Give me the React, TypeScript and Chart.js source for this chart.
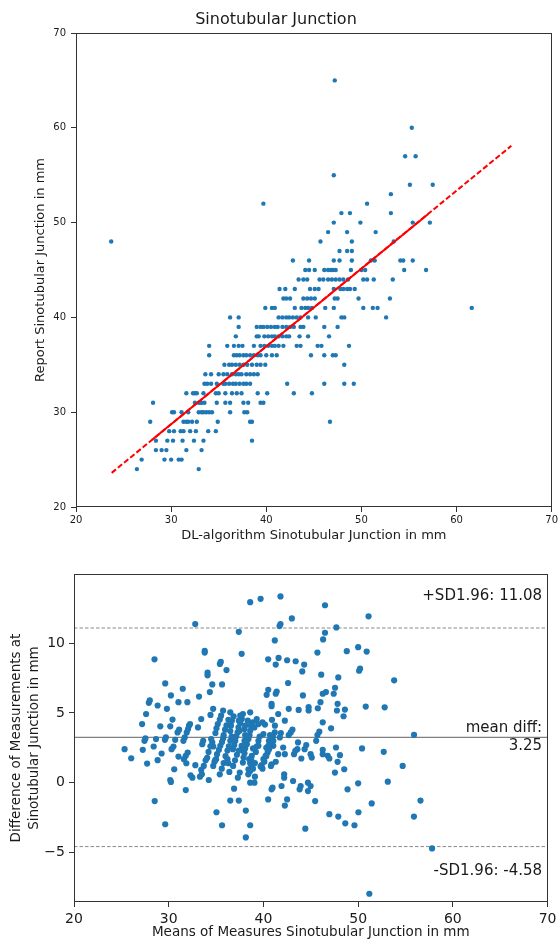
import React, { useEffect, useRef } from 'react';
import { Chart, registerables } from 'chart.js';

Chart.register(...registerables);

const FONT = '"DejaVu Sans", "Liberation Sans", sans-serif';
const TEXT = '#1a1a1a';
const DOT = '#1f77b4';

// ---------- top chart: report vs DL-algorithm ----------
const TOP_TITLE = 'Sinotubular Junction';
const TOP_X_LABEL = 'DL-algorithm Sinotubular Junction in mm';
const TOP_Y_LABEL = 'Report Sinotubular Junction in mm';
const TOP_TICKS = [20, 30, 40, 50, 60, 70];

// [report value, DL-algorithm values measured for that report value]
const topRows: [number, number[]][] = [
  [24, [26.4, 32.9]],
  [25, [26.9, 29.3, 30.0, 30.8, 31.1]],
  [26, [28.4, 29.0, 29.5, 31.6, 33.2]],
  [27, [28.4, 29.6, 30.2, 31.2, 32.4, 33.4, 38.5]],
  [28, [29.8, 30.3, 31.0, 31.3, 32.0, 32.6, 33.9, 34.7]],
  [29, [27.8, 31.3, 31.6, 31.8, 32.2, 32.7, 34.9, 38.3, 38.5, 46.7]],
  [30, [30.1, 30.3, 31.1, 31.8, 32.9, 33.2, 33.4, 33.7, 34.0, 34.3, 36.2, 37.7, 38.0]],
  [31, [28.1, 32.5, 32.9, 33.1, 33.2, 33.5, 34.8, 35.7, 36.2, 37.6, 38.1, 39.4, 39.7]],
  [32, [31.6, 32.3, 32.5, 32.7, 33.4, 34.7, 35.0, 35.7, 36.4, 36.9, 37.4, 39.1, 40.1, 42.9, 44.8]],
  [33, [33.5, 33.8, 34.2, 34.8, 35.5, 35.7, 36.1, 36.5, 36.8, 37.2, 37.6, 37.9, 38.3, 42.2, 46.1, 48.2, 49.2]],
  [34, [33.6, 34.2, 35.0, 35.5, 35.9, 36.4, 36.8, 37.1, 37.4, 37.9, 38.3, 38.7, 39.1]],
  [35, [35.6, 36.1, 36.4, 36.8, 37.2, 37.6, 38.0, 38.5, 39.0, 39.4, 39.9, 48.2]],
  [36, [34.0, 36.6, 36.9, 37.2, 37.6, 37.9, 38.3, 38.7, 39.1, 39.4, 40.0, 40.6, 41.1, 44.7, 46.1, 47.0, 47.3]],
  [37, [34.0, 35.9, 36.6, 37.1, 37.5, 38.7, 39.4, 39.8, 40.2, 40.6, 40.9, 41.3, 41.8, 43.2, 43.6, 45.4, 45.8, 48.7]],
  [38, [36.8, 39.0, 39.2, 39.8, 40.2, 40.6, 40.9, 41.3, 41.7, 42.1, 42.4, 43.5, 44.4, 46.6]],
  [39, [37.1, 39.0, 39.4, 39.7, 40.1, 40.5, 40.9, 41.2, 41.7, 42.1, 42.5, 42.9, 43.6, 43.9, 46.1, 47.5]],
  [40, [36.2, 37.1, 41.3, 41.7, 42.1, 42.4, 42.8, 43.2, 43.6, 44.4, 45.2, 47.9, 48.2, 52.6]],
  [41, [39.9, 40.6, 40.9, 43.0, 43.7, 44.1, 44.4, 44.8, 46.2, 47.1, 50.2, 51.2, 51.7, 61.6]],
  [42, [41.8, 42.1, 42.5, 43.9, 44.3, 44.7, 45.1, 47.2, 47.5, 49.7, 53.0]],
  [43, [41.4, 42.0, 43.0, 44.6, 45.1, 45.5, 47.1, 47.8, 48.1, 48.5, 48.8, 49.3]],
  [44, [43.4, 43.9, 44.3, 45.6, 46.0, 46.5, 46.9, 47.3, 47.7, 48.1, 48.6, 50.2, 50.6, 51.3, 53.3]],
  [45, [44.1, 44.5, 45.1, 46.1, 46.5, 46.8, 47.0, 47.3, 48.9, 50.0, 50.4, 54.5, 56.8]],
  [46, [42.8, 44.5, 47.1, 47.7, 49.0, 51.0, 51.4, 54.1, 54.4, 55.4]],
  [47, [47.7, 48.5, 49.0]],
  [48, [23.7, 45.7, 49.0, 53.4]],
  [49, [46.5, 48.5, 51.5]],
  [50, [47.1, 49.9, 55.4, 57.2]],
  [51, [47.9, 48.8, 53.1]],
  [52, [39.7, 50.6]],
  [53, [53.1]],
  [54, [55.1, 57.5]],
  [55, [47.1]],
  [57, [54.6, 55.7]],
  [60, [55.3]],
  [65, [47.2]],
];

// regression line: dashed over the whole range, dense (solid-looking) in the middle
const regDashedX = [23.75, 65.76];
const regDashedY = [23.6, 58.1];
const regSolidX = [28.0, 57.0];
const regSolidY = [27.09, 50.89];

// ---------- bottom chart: Bland-Altman ----------
const BA_X_LABEL = 'Means of Measures Sinotubular Junction in mm';
const BA_Y_LABEL = ['Difference of Measurements at', 'Sinotubular Junction in mm'];
const BA_X_TICKS = [20, 30, 40, 50, 60, 70];
const BA_Y_TICKS = [-5, 0, 5, 10];
const BA_Y_MIN = -8.55;
const BA_Y_MAX = 14.95;
const meanDiff = 3.25;
const upperLimit = 11.08;
const lowerLimit = -4.58;

// [mean of measures, difference]
const baPoints: [number, number][] = [
  [38.6, 12.93], [39.7, 13.17], [41.8, 13.34], [46.5, 12.71], [32.8, 11.36], [51.1, 11.92], [43.0, 11.77],
  [41.8, 11.36], [41.7, 11.22], [37.4, 10.81], [46.5, 10.74], [47.7, 11.12], [41.2, 10.19], [46.3, 10.26],
  [33.8, 9.44], [33.8, 9.32], [37.7, 9.23], [45.7, 9.32], [48.8, 9.42], [50.0, 9.71], [50.9, 9.39],
  [28.5, 8.84], [35.5, 8.65], [35.4, 8.51], [36.1, 8.07], [40.5, 8.84], [41.6, 8.94], [41.3, 8.46],
  [42.5, 8.77], [43.4, 8.7], [44.3, 8.46], [44.1, 7.97], [46.1, 7.74], [34.1, 7.88], [34.1, 7.69],
  [47.9, 7.54], [50.2, 8.17], [50.1, 8.02], [53.8, 7.33],
  [29.63, 7.11], [31.48, 6.73], [34.6, 7.04], [35.63, 7.04], [30.23, 6.25], [34.34, 6.49], [33.2, 6.17],
  [27.9, 5.72], [28.0, 5.89], [28.83, 5.53], [31.03, 5.77], [31.97, 5.77], [29.81, 5.29], [27.61, 4.92],
  [27.19, 4.2], [29.11, 4.04], [30.16, 4.04], [30.4, 4.52], [30.93, 3.6], [31.1, 3.8], [33.43, 4.56],
  [33.09, 3.96], [34.41, 4.85], [34.69, 5.29],
  [25.34, 2.4], [26.04, 1.75], [27.72, 1.37], [27.44, 3.0], [27.54, 3.17], [27.26, 2.35], [28.41, 2.59],
  [28.66, 3.12], [28.83, 1.61], [29.25, 2.09], [29.6, 3.07], [29.7, 3.24], [30.3, 2.4], [30.5, 2.59],
  [30.68, 3.07], [31.03, 1.87], [30.58, 0.96], [30.16, 0.19], [30.23, 0.05],
  [31.55, 3.0], [31.69, 3.24], [31.9, 3.6], [32.04, 3.84], [32.14, 4.08], [32.25, 4.2],
  [32.0, 2.16], [31.8, 1.92], [31.6, 1.68], [31.86, 1.39], [32.81, 1.25], [33.43, 0.91], [33.5, 0.6],
  [33.3, 0.43], [32.3, 0.53], [32.5, 0.36], [31.8, -0.53], [34.23, 0.19], [34.06, 1.78], [33.54, 2.76],
  [33.64, 3.0],
  [35.39, 0.6], [34.83, 1.49], [35.0, 1.68], [34.7, 2.59], [34.6, 2.88], [34.48, 3.12],
  [35.1, 2.04], [35.3, 2.35], [35.45, 2.64], [35.63, 2.92], [35.74, 3.17],
  [34.93, 3.56], [35.04, 3.89], [35.18, 4.2], [35.39, 4.52], [35.53, 4.8], [35.74, 5.17],
  [36.2, 1.68], [36.3, 1.39], [36.4, 0.77],
  [36.78, 2.4], [36.92, 2.69], [37.03, 3.0], [37.13, 3.32], [37.27, 3.6], [37.37, 3.96], [37.55, 4.28],
  [37.72, 4.56], [37.83, 4.92],
  [36.5, 3.7], [36.57, 4.08], [36.67, 4.44], [36.85, 4.76], [36.5, 5.04],
  [37.3, 0.36], [37.5, 0.72], [36.9, -0.43],
  [38.07, 2.45], [38.25, 2.76], [38.42, 3.12], [38.53, 3.41], [38.6, 3.72], [38.67, 4.08], [38.88, 4.32],
  [38.6, 5.04], [38.5, 1.68], [38.6, 1.39], [38.42, 0.96], [38.6, 0.0], [37.83, 1.44],
  [42.6, 7.14], [47.56, 6.8], [47.42, 6.37], [46.26, 6.37], [44.17, 6.25], [40.51, 6.65], [40.34, 6.29],
  [41.4, 6.53], [41.3, 6.37], [40.86, 5.65], [40.86, 5.48], [42.67, 5.29], [43.72, 5.21], [44.77, 5.41],
  [44.77, 5.17], [45.74, 5.33], [46.02, 5.77], [46.6, 6.49], [47.83, 5.65], [47.76, 5.17], [48.6, 5.24],
  [48.46, 4.76], [50.8, 5.45], [52.8, 5.4], [47.14, 3.89], [46.26, 4.32], [45.9, 3.65], [45.7, 3.41],
  [43.06, 3.8], [42.88, 3.6], [42.26, 4.44], [41.56, 4.92], [41.21, 4.08], [40.16, 4.16], [39.29, 4.56],
  [39.47, 4.2], [37.55, 4.8], [38.35, 4.44], [38.07, 4.08], [38.0, 3.84], [39.05, 3.96], [39.9, 4.32],
  [40.0, 3.48], [41.04, 3.0], [41.04, 2.64], [41.84, 3.55], [41.73, 3.24], [42.67, 3.41], [43.65, 2.88],
  [43.58, 2.4], [44.52, 2.69], [44.35, 2.4], [45.57, 3.0], [46.26, 2.35], [46.26, 2.04], [44.98, 2.04],
  [45.1, 1.8], [44.0, 1.73], [43.23, 2.04], [43.37, 2.28], [42.26, 2.04], [42.08, 2.52], [41.56, 2.04],
  [40.51, 2.64], [40.58, 3.0], [40.44, 2.16], [40.23, 1.92], [40.0, 1.68], [39.8, 1.25], [39.7, 1.15],
  [39.47, 2.64], [39.47, 3.0], [38.9, 2.45], [38.77, 1.92], [38.7, 1.68], [38.07, 3.41], [38.0, 3.0],
  [37.7, 2.64], [37.7, 2.35], [38.77, 1.2], [38.6, 0.84], [38.4, 0.6], [39.1, 0.43], [39.05, 0.0],
  [40.86, 1.32], [40.79, 1.2], [42.19, 0.6], [42.19, 0.36], [41.91, -0.24], [43.13, 0.12], [43.93, -0.24],
  [43.82, -0.48], [44.7, 0.0], [44.7, -0.6], [44.98, -0.24], [46.79, 1.92], [46.96, 1.73], [47.55, 0.72],
  [48.08, 1.97], [47.83, 1.49], [48.53, 0.96], [47.66, 2.52], [50.41, 2.45], [52.7, 2.21], [48.88, -0.48],
  [50.0, -0.05], [53.13, 0.07], [40.96, -0.36], [40.86, -0.48], [55.9, 3.43], [54.7, 1.2],
  [39.6, 3.3], [40.3, 2.5], [40.7, 3.4], [39.2, 2.2], [40.9, 4.5], [41.3, 1.5], [37.4, 4.44], [37.48, 3.72],
  [33.7, 1.2], [33.9, 1.6], [34.2, 2.2], [34.4, 2.6], [34.7, 1.2], [34.9, 1.6], [35.8, 3.4], [35.95, 3.8],
  [36.1, 4.1], [36.3, 4.5], [35.6, 1.0], [35.8, 1.4], [36.0, 1.9], [36.2, 2.3], [36.35, 2.6], [36.5, 3.0],
  [36.65, 3.3], [36.8, 1.2], [37.0, 1.6], [37.2, 2.0], [37.4, 2.3], [37.9, 1.8], [38.0, 2.1], [38.9, 1.0],
  [39.1, 1.4], [39.3, 2.6], [39.9, 1.0], [40.1, 1.5], [40.3, 1.9], [40.6, 2.4], [40.8, 2.9], [41.0, 3.3],
  [41.2, 3.6],
  [29.63, -2.98], [35.04, -2.12], [35.63, -3.05], [36.5, -1.28], [37.4, -1.28], [38.14, -2.0], [38.6, -3.05],
  [38.14, -3.92], [40.5, -1.2], [42.26, -1.64], [42.5, -1.2], [44.42, -3.3], [45.46, -1.32], [46.96, -2.26],
  [47.9, -2.43], [48.64, -2.91], [49.61, -3.05], [50.03, -2.12], [51.43, -1.49], [55.89, -2.43],
  [56.58, -1.28], [57.8, -4.71], [51.18, -7.96], [28.52, -1.32],
];

const fixedTicks = (values: number[]) => (scale: any) => {
  scale.ticks = values.map((v) => ({ value: v }));
};

const minusLabel = (v: any) => {
  const n = Number(v);
  return n < 0 ? '\u2212' + Math.abs(n) : String(n);
};

const framePlugin = {
  id: 'frame',
  afterDraw(chart: any) {
    const { ctx, chartArea: a } = chart;
    ctx.save();
    ctx.strokeStyle = '#333333';
    ctx.lineWidth = 1;
    ctx.strokeRect(Math.round(a.left) + 0.5, Math.round(a.top) + 0.5, Math.round(a.right - a.left) - 1, Math.round(a.bottom - a.top) - 1);
    ctx.restore();
  },
};

const gridOpts = {
  display: true,
  drawOnChartArea: false,
  drawTicks: true,
  tickLength: 5,
  color: '#333333',
  lineWidth: 1,
};

export default function App() {
  const topRef = useRef<HTMLCanvasElement | null>(null);
  const botRef = useRef<HTMLCanvasElement | null>(null);

  useEffect(() => {
    if (!topRef.current || !botRef.current) return;

    const topPoints = topRows.flatMap(([r, xs]) => xs.map((x) => ({ x, y: r })));
    const regDashed = regDashedX.map((x, i) => ({ x, y: regDashedY[i] }));
    const regSolid = regSolidX.map((x, i) => ({ x, y: regSolidY[i] }));

    const top = new Chart(topRef.current, {
      type: 'scatter',
      data: {
        datasets: [
          {
            data: regDashed,
            showLine: true,
            borderColor: '#ff0000',
            borderWidth: 2,
            borderDash: [5.5, 2.5],
            pointRadius: 0,
            order: 0,
          } as any,
          {
            data: regSolid,
            showLine: true,
            borderColor: '#ff0000',
            borderWidth: 2,
            pointRadius: 0,
            order: 0,
          } as any,
          {
            data: topPoints,
            pointRadius: 2.2,
            pointBackgroundColor: DOT,
            pointBorderWidth: 0,
            order: 1,
          } as any,
        ],
      },
      options: {
        responsive: false,
        animation: false,
        devicePixelRatio: 1,
        events: [],
        layout: { padding: { left: 0, right: 8, top: 0, bottom: 0 } },
        plugins: {
          legend: { display: false },
          tooltip: { enabled: false },
          title: {
            display: true,
            text: TOP_TITLE,
            color: TEXT,
            font: { family: FONT, size: 16, weight: 'normal' },
            padding: { top: 10.4, bottom: 3.4 },
          },
        },
        scales: {
          x: {
            type: 'linear',
            min: 20,
            max: 70,
            afterBuildTicks: fixedTicks(TOP_TICKS),
            afterFit: (s: any) => { s.height = 38; },
            ticks: { color: TEXT, font: { family: FONT, size: 10 }, padding: 2, maxRotation: 0 },
            grid: gridOpts,
            border: { display: false },
            title: { display: true, text: TOP_X_LABEL, color: TEXT, font: { family: FONT, size: 13 }, padding: { top: 0, bottom: 1.5 } },
          },
          y: {
            type: 'linear',
            min: 20,
            max: 70,
            afterBuildTicks: fixedTicks(TOP_TICKS),
            afterFit: (s: any) => { s.width = 76; },
            ticks: { color: TEXT, font: { family: FONT, size: 10 }, padding: 5 },
            grid: gridOpts,
            border: { display: false },
            title: { display: true, text: TOP_Y_LABEL, color: TEXT, font: { family: FONT, size: 13 }, padding: { top: 33.2, bottom: 0 } },
          },
        },
      } as any,
      plugins: [framePlugin],
    });

    const annotPlugin = {
      id: 'baText',
      afterDraw(chart: any) {
        const { ctx, chartArea: a, scales } = chart;
        const y = scales.y;
        const right = a.right - 5.5;
        ctx.save();
        ctx.fillStyle = TEXT;
        ctx.font = `15px ${FONT}`;
        ctx.textAlign = 'right';
        ctx.textBaseline = 'middle';
        ctx.fillText(`+SD1.96: ${upperLimit.toFixed(2)}`, right, y.getPixelForValue(upperLimit) - 32);
        ctx.fillText('mean diff:', right, y.getPixelForValue(meanDiff) - 9);
        ctx.fillText(meanDiff.toFixed(2), right, y.getPixelForValue(meanDiff) + 8.5);
        ctx.fillText(`-SD1.96: ${lowerLimit.toFixed(2)}`, right, y.getPixelForValue(lowerLimit) + 25);
        ctx.restore();
      },
    };

    const hLine = (v: number) => [{ x: 20, y: v }, { x: 70, y: v }];

    const bot = new Chart(botRef.current, {
      type: 'scatter',
      data: {
        datasets: [
          {
            data: hLine(upperLimit),
            showLine: true,
            borderColor: '#8a8a8a',
            borderWidth: 1,
            borderDash: [3.5, 2],
            pointRadius: 0,
            order: 2,
          } as any,
          {
            data: hLine(meanDiff),
            showLine: true,
            borderColor: '#808080',
            borderWidth: 1.2,
            pointRadius: 0,
            order: 2,
          } as any,
          {
            data: hLine(lowerLimit),
            showLine: true,
            borderColor: '#8a8a8a',
            borderWidth: 1,
            borderDash: [3.5, 2],
            pointRadius: 0,
            order: 2,
          } as any,
          {
            data: baPoints.map(([x, y]) => ({ x, y })),
            pointRadius: 3.1,
            pointBackgroundColor: DOT,
            pointBorderWidth: 0,
            order: 1,
          } as any,
        ],
      },
      options: {
        responsive: false,
        animation: false,
        devicePixelRatio: 1,
        events: [],
        layout: { padding: { left: 0, right: 8, top: 29, bottom: 0 } },
        plugins: {
          legend: { display: false },
          tooltip: { enabled: false },
          title: { display: false },
        },
        scales: {
          x: {
            type: 'linear',
            min: 20,
            max: 70,
            afterBuildTicks: fixedTicks(BA_X_TICKS),
            afterFit: (s: any) => { s.height = 41; },
            ticks: { color: TEXT, font: { family: FONT, size: 14 }, padding: 3.5, maxRotation: 0 },
            grid: gridOpts,
            border: { display: false },
            title: { display: true, text: BA_X_LABEL, color: TEXT, font: { family: FONT, size: 13.5 }, padding: { top: 0, bottom: 2.5 } },
          },
          y: {
            type: 'linear',
            min: BA_Y_MIN,
            max: BA_Y_MAX,
            afterBuildTicks: fixedTicks(BA_Y_TICKS),
            afterFit: (s: any) => { s.width = 74; },
            ticks: { color: TEXT, font: { family: FONT, size: 14 }, padding: 4, callback: minusLabel },
            grid: gridOpts,
            border: { display: false },
            title: {
              display: true,
              text: BA_Y_LABEL,
              color: TEXT,
              font: { family: FONT, size: 13.5, lineHeight: '18px' },
              padding: { top: 7, bottom: 0 },
            },
          },
        },
      } as any,
      plugins: [framePlugin, annotPlugin],
    });

    return () => {
      top.destroy();
      bot.destroy();
    };
  }, []);

  return (
    <div style={{ position: 'fixed', left: 0, top: 0, width: 560, height: 943, background: '#ffffff', overflow: 'hidden' }}>
      <canvas ref={topRef} width={560} height={545} style={{ position: 'absolute', left: 0, top: 0, width: 560, height: 545 }} />
      <canvas ref={botRef} width={560} height={398} style={{ position: 'absolute', left: 0, top: 545, width: 560, height: 398 }} />
    </div>
  );
}
